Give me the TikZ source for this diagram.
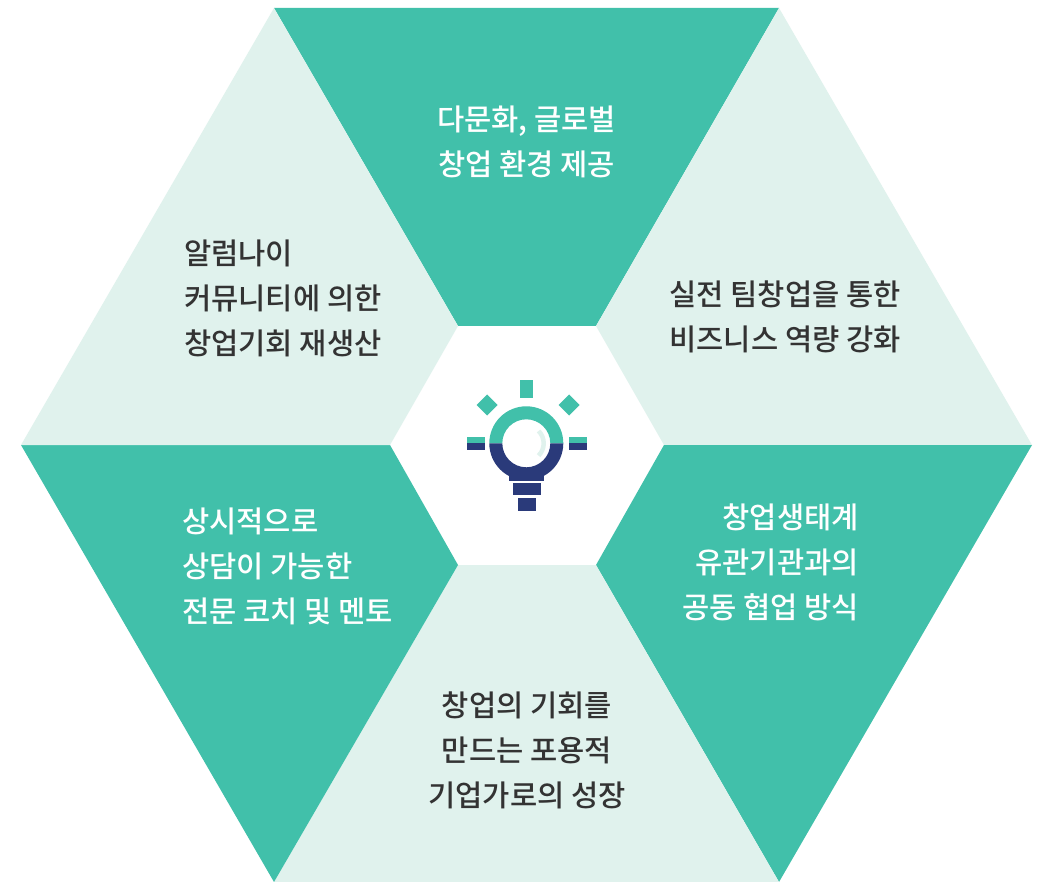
\documentclass[tikz,border=0pt]{standalone}
\usepackage{fontspec}
\setmainfont{Noto Sans CJK KR Medium}
\definecolor{tealfill}{HTML}{41C0AA}
\definecolor{palefill}{HTML}{E0F2ED}
\definecolor{navyfill}{HTML}{2A3A7A}
\definecolor{darktext}{HTML}{333333}
\tikzset{
	label text/.style={font=\fontsize{29.6}{45}\selectfont, inner sep=0pt},
	on teal/.style={label text, text=white},
	on pale/.style={label text, text=darktext}
}
\newcommand{\sector}[5] % colour, then four corners
{
	\fill[#1] #2 -- #3 -- #4 -- #5 -- cycle;
}
\newcommand{\tick}[5] % colour, x left, y top, x right, y bottom
{
	\fill[#1] (#2,#3) rectangle (#4,#5);
}

\begin{document}
\begin{tikzpicture}[x=1pt, y=-1pt]
	% 1044 x 882, y runs downwards
	\useasboundingbox (0,0) rectangle (1044,882);
	\fill[white] (0,0) rectangle (1044,882);
	
	% six sectors of the ring
	\sector{tealfill}{(274,8)}{(779,8)}{(596,326)}{(458,326)}
	\sector{palefill}{(779,8)}{(1032,445)}{(664,445)}{(596,326)}
	\sector{tealfill}{(1032,445)}{(779,882)}{(596,565)}{(664,445)}
	\sector{palefill}{(779,882)}{(274,882)}{(458,565)}{(596,565)}
	\sector{tealfill}{(274,882)}{(21,445)}{(390,445)}{(458,565)}
	\sector{palefill}{(21,445)}{(274,8)}{(458,326)}{(390,445)}
	
	% labels
	\node[on teal, align=center] (global) at (526.5,141.5) {다문화, 글로벌\\창업 환경 제공};
	\node[on pale, align=center] (team) at (785,317) {실전 팀창업을 통한\\비즈니스 역량 강화};
	\node[on teal, align=right, anchor=east] (partner) at (859,562.5) {창업생태계\\유관기관과의\\공동 협업 방식};
	\node[on pale, align=center] (growth) at (527,750) {창업의 기회를\\만드는 포용적\\기업가로의 성장};
	\node[on teal, align=left, anchor=west] (coach) at (182,566.5) {상시적으로\\상담이 가능한\\전문 코치 및 멘토};
	\node[on pale, align=left, anchor=west] (alumni) at (184,298) {알럼나이\\커뮤니티에 의한\\창업기회 재생산};
	
	% bulb: rays
	\tick{tealfill}{520}{380}{533}{398}
	\fill[tealfill] (487,394.5) -- (497.5,405) -- (487,415.5) -- (476.5,405) -- cycle;
	\fill[tealfill] (569,394.5) -- (579.5,405) -- (569,415.5) -- (558.5,405) -- cycle;
	\tick{tealfill}{467}{437}{485}{443.3}
	\tick{navyfill}{467}{443.3}{485}{450}
	\tick{tealfill}{569}{437}{587}{443.3}
	\tick{navyfill}{569}{443.3}{587}{450}
	
	% bulb: glass and base
	\tick{navyfill}{509}{470}{544}{481}
	\fill[tealfill] (489.3,443.3) arc[start angle=180, end angle=360, radius=37] -- (550.3,443.3) arc[start angle=360, end angle=180, radius=24] -- cycle;
	\fill[navyfill] (489.3,443.3) arc[start angle=180, end angle=0, radius=37] -- (550.3,443.3) arc[start angle=0, end angle=180, radius=24] -- cycle;
	\draw[palefill, line width=4.5pt] (538.6,431) arc[start angle=-45, end angle=45, radius=17.4];
	\tick{navyfill}{513}{483}{541}{495}
	\tick{navyfill}{518}{498}{536}{511}
\end{tikzpicture}
\end{document}
